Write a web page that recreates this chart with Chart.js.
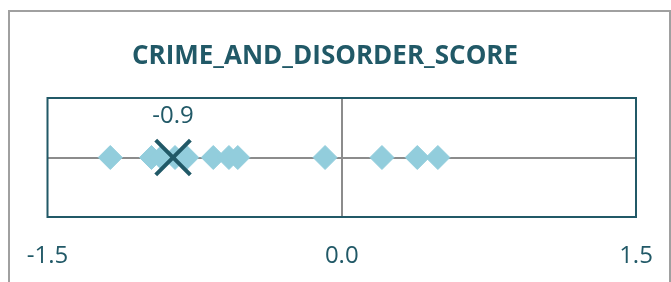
<!DOCTYPE html>
<html>
<head>
<meta charset="utf-8">
<script src="https://cdn.jsdelivr.net/npm/chart.js@4.4.0/dist/chart.umd.min.js"></script>
<style>
  html, body { margin: 0; padding: 0; background: #fff; }
  #wrap { position: relative; width: 671px; height: 282px; }
</style>
</head>
<body>
<div id="wrap"><canvas id="scoreChart" width="671" height="282"></canvas></div>
<script>
const chartTitle = 'CRIME_AND_DISORDER_SCORE';
// every area's score, all sit on the zero line
const scoreValues = [-1.18, -0.97, -0.92, -0.85, -0.79, -0.655, -0.575, -0.53, -0.085, 0.205, 0.385, 0.49];
// the selected area (cross marker)
const selectedValue = -0.86;
const axisTicks = [-1.5, 0.0, 1.5];

const teal = '#215967';
const diamondBlue = '#92CDDC';
const gridGray = '#8c8c8c';
const fontName = '"Open Sans", "DejaVu Sans", sans-serif';

Chart.defaults.font.family = fontName;

// title, plot frame, outer frame and the value label
const decorations = {
  id: 'decorations',
  afterDatasetsDraw(chart) {
    const { ctx, chartArea: a } = chart;
    ctx.save();
    ctx.strokeStyle = teal;
    ctx.lineWidth = 2;
    ctx.strokeRect(a.left, a.top, a.right - a.left, a.bottom - a.top);
    ctx.restore();
  },
  afterDraw(chart) {
    const ctx = chart.ctx;
    ctx.save();
    // outer frame, bottom edge runs off the picture
    ctx.strokeStyle = '#a0a0a0';
    ctx.lineWidth = 2;
    ctx.beginPath();
    ctx.moveTo(9, 300);
    ctx.lineTo(9, 11);
    ctx.lineTo(670, 11);
    ctx.lineTo(670, 300);
    ctx.stroke();

    ctx.fillStyle = teal;
    ctx.textAlign = 'center';
    ctx.textBaseline = 'alphabetic';
    ctx.font = 'bold 26px ' + fontName;
    ctx.fillText(chartTitle, 325, 64);

    const pt = chart.getDatasetMeta(0).data[0];
    ctx.font = '24px ' + fontName;
    ctx.fillText(selectedValue.toFixed(1), pt.x, pt.y - 35);
    ctx.restore();
  }
};

new Chart(document.getElementById('scoreChart'), {
  type: 'scatter',
  data: {
    datasets: [
      {
        label: 'Selected',
        data: [{ x: selectedValue, y: 0 }],
        pointStyle: 'crossRot',
        pointRadius: 24.5,
        borderColor: teal,
        borderWidth: 4,
        order: 0
      },
      {
        label: 'Scores',
        data: scoreValues.map(v => ({ x: v, y: 0 })),
        pointStyle: 'rectRot',
        pointRadius: 12,
        backgroundColor: diamondBlue,
        borderColor: diamondBlue,
        borderWidth: 1,
        order: 1
      }
    ]
  },
  options: {
    responsive: false,
    animation: false,
    events: [],
    layout: { padding: { left: 47.5, right: 35, top: 98, bottom: 0 } },
    plugins: { legend: { display: false }, tooltip: { enabled: false }, title: { display: false } },
    scales: {
      x: {
        type: 'linear',
        min: -1.5,
        max: 1.5,
        afterBuildTicks: s => { s.ticks = axisTicks.map(v => ({ value: v })); },
        // keep the tick padding from eating into the plot width
        afterFit: s => { s.height = 65; s.paddingLeft = 0; s.paddingRight = 0; },
        ticks: {
          color: teal,
          font: { size: 24 },
          padding: 25,
          maxRotation: 0,
          callback: v => Number(v).toFixed(1)
        },
        grid: {
          color: c => (c.tick && c.tick.value === 0 ? gridGray : 'rgba(0,0,0,0)'),
          lineWidth: 2,
          drawTicks: false
        },
        border: { display: false }
      },
      y: {
        min: -1,
        max: 1,
        afterBuildTicks: s => { s.ticks = [{ value: 0 }]; },
        afterFit: s => { s.width = 0; },
        ticks: { display: false },
        grid: { color: gridGray, lineWidth: 2, drawTicks: false },
        border: { display: false }
      }
    }
  },
  plugins: [decorations]
});
</script>
</body>
</html>
